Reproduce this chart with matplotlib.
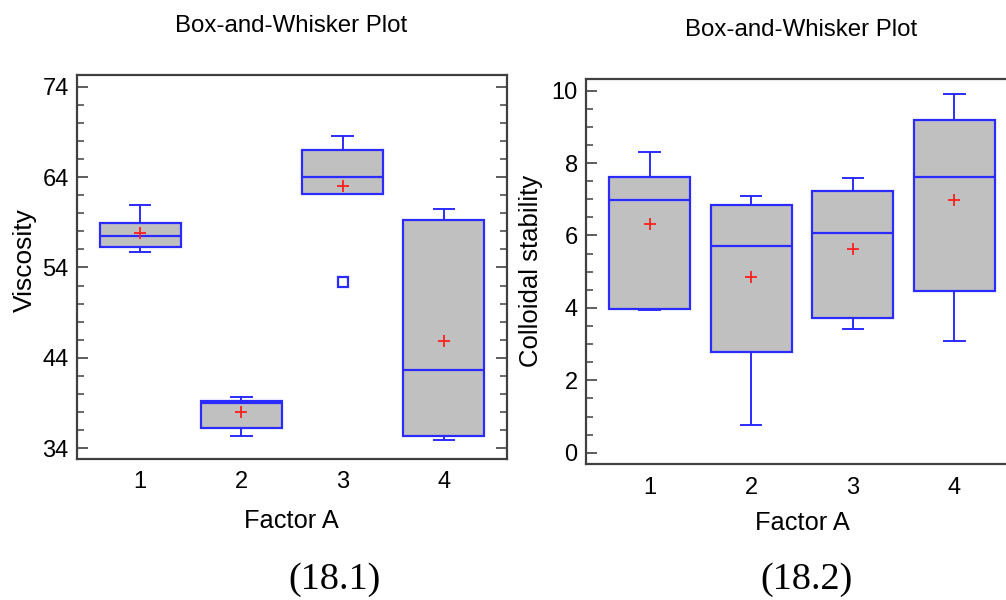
import matplotlib
matplotlib.use("Agg")
import matplotlib.pyplot as plt
from matplotlib.ticker import FixedLocator

# ---- data ----
groups = ["1", "2", "3", "4"]

visc_whislo = [55.7, 35.3, 62.1, 34.9]
visc_q1     = [56.25, 36.2, 62.1, 35.3]
visc_med    = [57.5, 38.95, 64.0, 42.6]
visc_q3     = [58.9, 39.24, 67.0, 59.3]
visc_whishi = [60.9, 39.7, 68.6, 60.5]
visc_mean   = [57.8, 37.95, 63.0, 45.9]
visc_fliers = [[], [], [52.4], []]
visc_ticks  = [34, 44, 54, 64, 74]

coll_whislo = [3.95, 0.78, 3.41, 3.08]
coll_q1     = [3.98, 2.78, 3.73, 4.48]
coll_med    = [6.99, 5.71, 6.07, 7.62]
coll_q3     = [7.61, 6.84, 7.23, 9.18]
coll_whishi = [8.30, 7.09, 7.59, 9.90]
coll_mean   = [6.31, 4.84, 5.63, 6.98]
coll_fliers = [[], [], [], []]
coll_ticks  = [0, 2, 4, 6, 8, 10]

BLUE = "#2b2bff"
GRAY = "#c0c0c0"
RED = "#ff2020"
FRAME = "#404040"

W, H = 1006, 600
fig = plt.figure(figsize=(W / 100, H / 100), dpi=100)
plt.rcParams["font.family"] = ["Liberation Sans", "DejaVu Sans"]


def px(x, y):
    return x / W, 1 - y / H


def make_stats(lo, q1, med, q3, hi, mean, fl):
    out = []
    for i in range(len(lo)):
        out.append(dict(whislo=lo[i], q1=q1[i], med=med[i], q3=q3[i],
                        whishi=hi[i], mean=mean[i], fliers=fl[i], label=groups[i]))
    return out


def draw(ax, stats, ylim, ticks, nminor):
    pos = list(range(1, len(stats) + 1))
    ax.bxp(stats, positions=pos, widths=0.8, capwidths=0.2, patch_artist=True,
           showmeans=True, showfliers=True,
           boxprops=dict(facecolor=GRAY, edgecolor=BLUE, linewidth=1.6),
           medianprops=dict(color=BLUE, linewidth=1.6),
           whiskerprops=dict(color=BLUE, linewidth=1.4),
           capprops=dict(color=BLUE, linewidth=1.4),
           meanprops=dict(marker="+", markeredgecolor=RED, markersize=9,
                          markeredgewidth=1.3),
           flierprops=dict(marker="s", markerfacecolor="none",
                           markeredgecolor=BLUE, markersize=7,
                           markeredgewidth=1.6))
    ax.set_xlim(0.375, 4.625)
    ax.set_ylim(*ylim)
    ax.yaxis.set_major_locator(FixedLocator(ticks))
    step = (ticks[1] - ticks[0]) / nminor
    minors = [ticks[0] + step * k for k in range(-2, nminor * (len(ticks) - 1) + 3)]
    ax.yaxis.set_minor_locator(FixedLocator(minors))
    ax.set_xticks(pos)
    ax.set_xticklabels(groups)
    ax.tick_params(axis="x", length=0, pad=9, labelsize=17)
    ax.tick_params(axis="y", which="major", direction="in", length=8,
                   width=1.3, color="#505050", left=True, right=True,
                   labelsize=17, pad=6)
    ax.tick_params(axis="y", which="minor", direction="in", length=5,
                   width=1.2, color="#505050", left=True, right=True)
    for s in ax.spines.values():
        s.set_color(FRAME)
        s.set_linewidth(1.6)


# left panel
ax1 = fig.add_axes([77 / W, 1 - 459 / H, 430 / W, 384 / H])
draw(ax1, make_stats(visc_whislo, visc_q1, visc_med, visc_q3, visc_whishi,
                     visc_mean, visc_fliers), (32.8, 75.3), visc_ticks, 5)

# right panel (extends past the right edge as in the reference)
ax2 = fig.add_axes([586 / W, 1 - 464 / H, 432 / W, 385 / H])
draw(ax2, make_stats(coll_whislo, coll_q1, coll_med, coll_q3, coll_whishi,
                     coll_mean, coll_fliers), (-0.31, 10.32), coll_ticks, 4)

# texts
fig.text(*px(291, 26), "Box-and-Whisker Plot", ha="center", va="center", fontsize=17.3)
fig.text(*px(801, 30), "Box-and-Whisker Plot", ha="center", va="center", fontsize=17.3)
fig.text(*px(291, 521), "Factor A", ha="center", va="center", fontsize=18.3)
fig.text(*px(802, 523), "Factor A", ha="center", va="center", fontsize=18.3)
fig.text(*px(25, 260), "Viscosity", ha="center", va="center", rotation=90, fontsize=19)
fig.text(*px(531, 271), "Colloidal stability", ha="center", va="center", rotation=90, fontsize=18.5)
fig.text(*px(335, 580), "(18.1)", ha="center", va="center", fontsize=27.5,
         family=["Liberation Serif", "DejaVu Serif"])
fig.text(*px(807, 580), "(18.2)", ha="center", va="center", fontsize=27.5,
         family=["Liberation Serif", "DejaVu Serif"])

fig.savefig("out.png", dpi=100)
